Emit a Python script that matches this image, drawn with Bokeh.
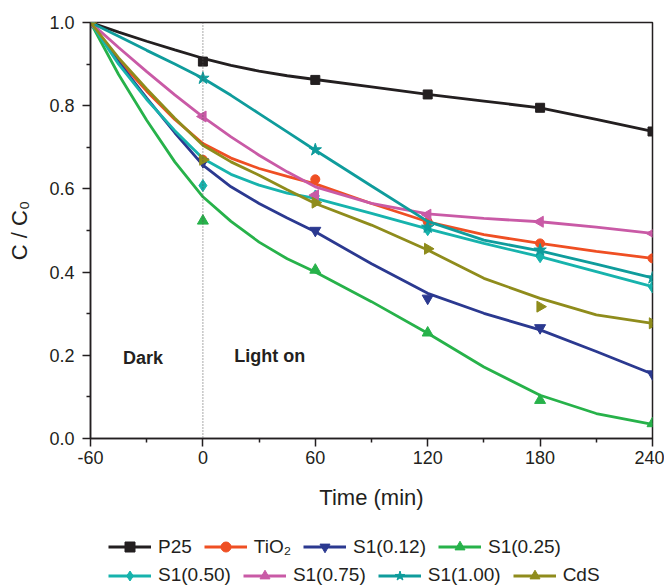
import math
from bokeh.plotting import figure
from bokeh.layouts import column
from bokeh.models import (Legend, LegendItem, Span, Label, FixedTicker,
                          PrintfTickFormatter, Range1d)
from bokeh.embed import file_html
from bokeh.resources import INLINE

# ---------------- data ----------------
series_names = ["P25", "TiO\u2082", "S1(0.12)", "S1(0.25)",
                "S1(0.50)", "S1(0.75)", "S1(1.00)", "CdS"]

# measured points (markers)
t_points = [-60, 0, 60, 120, 180, 240]
p25_pts = [1.0, 0.906, 0.862, 0.827, 0.795, 0.738]
tio2_pts = [1.0, 0.670, 0.623, 0.521, 0.469, 0.433]
s1_012_pts = [1.0, 0.665, 0.500, 0.337, 0.266, 0.155]
s1_025_pts = [1.0, 0.523, 0.405, 0.254, 0.092, 0.036]
s1_050_pts = [1.0, 0.608, 0.583, 0.502, 0.437, 0.364]
s1_075_pts = [1.0, 0.774, 0.585, 0.538, 0.521, 0.493]
s1_100_pts = [1.0, 0.866, 0.694, 0.508, 0.453, 0.386]
cds_pts = [1.0, 0.670, 0.567, 0.456, 0.317, 0.277]

# fitted curves
t_curve = [-60, -45, -30, -15, 0, 15, 30, 45, 60, 90, 120, 150, 180, 210, 240]
p25_fit = [1.0, 0.977, 0.955, 0.934, 0.914, 0.897, 0.883, 0.872, 0.863, 0.845, 0.827, 0.811, 0.795, 0.767, 0.738]
tio2_fit = [1.0, 0.910, 0.835, 0.767, 0.709, 0.674, 0.649, 0.630, 0.612, 0.565, 0.521, 0.490, 0.469, 0.450, 0.433]
s1_012_fit = [1.0, 0.905, 0.818, 0.735, 0.657, 0.605, 0.565, 0.530, 0.497, 0.420, 0.349, 0.301, 0.261, 0.209, 0.155]
s1_025_fit = [1.0, 0.875, 0.765, 0.665, 0.581, 0.522, 0.472, 0.432, 0.400, 0.329, 0.253, 0.172, 0.104, 0.060, 0.034]
s1_050_fit = [1.0, 0.900, 0.815, 0.740, 0.673, 0.635, 0.609, 0.590, 0.577, 0.541, 0.504, 0.469, 0.437, 0.401, 0.365]
s1_075_fit = [1.0, 0.940, 0.882, 0.826, 0.773, 0.725, 0.681, 0.641, 0.605, 0.565, 0.540, 0.529, 0.521, 0.508, 0.493]
s1_100_fit = [1.0, 0.967, 0.933, 0.900, 0.866, 0.825, 0.781, 0.737, 0.693, 0.607, 0.522, 0.477, 0.451, 0.419, 0.386]
cds_fit = [1.0, 0.915, 0.840, 0.770, 0.705, 0.665, 0.633, 0.598, 0.565, 0.513, 0.453, 0.385, 0.337, 0.297, 0.277]

x_ticks = [-60, 0, 60, 120, 180, 240]
x_minor = [-30, 30, 90, 150, 210]
y_ticks = [0.0, 0.2, 0.4, 0.6, 0.8, 1.0]
y_minor = [0.1, 0.3, 0.5, 0.7, 0.9]

points = [p25_pts, tio2_pts, s1_012_pts, s1_025_pts, s1_050_pts, s1_075_pts, s1_100_pts, cds_pts]
fits = [p25_fit, tio2_fit, s1_012_fit, s1_025_fit, s1_050_fit, s1_075_fit, s1_100_fit, cds_fit]

# ---------------- style ----------------
colors = ["#231f20", "#ef4f23", "#2b3990", "#27b24a",
          "#17b3ad", "#c95aa6", "#0f9c9c", "#8f8c1c"]
markers = ["square", "circle", "inverted_triangle", "triangle",
           "diamond", "triangle", "star", "triangle"]
angles = [0, 0, 0, 0, 0, math.pi / 2, 0, -math.pi / 2]
sizes = [9, 9, 11, 11, 12, 11, 13, 11]

FONT = "Liberation Sans"
INK = "#231f20"

p = figure(width=664, height=520, output_backend="svg", toolbar_location=None,
           x_range=Range1d(-60, 240), y_range=Range1d(0, 1.0),
           min_border_left=90, min_border_right=12, min_border_top=22,
           min_border_bottom=82)
p.grid.visible = False
p.background_fill_color = "white"
p.border_fill_color = "white"
p.outline_line_color = INK
p.outline_line_width = 1.5
p.outline_line_alpha = 1.0

p.xaxis.ticker = FixedTicker(ticks=x_ticks, minor_ticks=x_minor)
p.yaxis.ticker = FixedTicker(ticks=y_ticks, minor_ticks=y_minor)
p.yaxis.formatter = PrintfTickFormatter(format="%.1f")
p.xaxis.major_label_overrides = {-60: "-60"}

for ax in (p.xaxis[0], p.yaxis[0]):
    ax.axis_line_color = INK
    ax.axis_line_width = 1.5
    ax.major_tick_line_color = INK
    ax.major_tick_line_width = 1.5
    ax.minor_tick_line_color = INK
    ax.minor_tick_line_width = 1.5
    ax.major_tick_in = 0
    ax.major_tick_out = 8
    ax.minor_tick_in = 0
    ax.minor_tick_out = 4
    ax.major_label_text_font = FONT
    ax.major_label_text_font_size = "18px"
    ax.major_label_text_color = INK
    ax.axis_label_text_font = FONT
    ax.axis_label_text_font_size = "22px"
    ax.axis_label_text_font_style = "normal"
    ax.axis_label_text_color = INK

p.xaxis.axis_label = "Time (min)"
p.yaxis.axis_label = "C / C\u2080"
p.xaxis.major_label_standoff = 4
p.yaxis.major_label_standoff = 8
p.xaxis.axis_label_standoff = 18
p.yaxis.axis_label_standoff = 14

p.add_layout(Span(location=0, dimension="height", line_color="#555555",
                  line_dash="1 2", line_width=1))

for pts, fit, col, mk, ang, sz in zip(points, fits, colors, markers, angles, sizes):
    p.line(t_curve, fit, line_color=col, line_width=2.8)
    p.scatter(t_points, pts, marker=mk, size=sz, angle=ang,
              fill_color=col, line_color=col)

p.add_layout(Label(x=-42.7, y=0.194, text="Dark", text_font=FONT,
                   text_font_style="bold", text_font_size="18px",
                   text_color=INK, text_baseline="alphabetic"))
p.add_layout(Label(x=16.8, y=0.198, text="Light on", text_font=FONT,
                   text_font_style="bold", text_font_size="18px",
                   text_color=INK, text_baseline="alphabetic"))

# ---------------- legend strip ----------------
lg = figure(width=664, height=67, output_backend="svg", toolbar_location=None,
            x_range=Range1d(-60, 240), y_range=Range1d(0, 1),
            x_axis_type=None, y_axis_type=None, min_border=0)
lg.grid.visible = False
lg.outline_line_color = None
lg.background_fill_color = "white"
lg.border_fill_color = "white"

items = []
for name, pts, fit, col, mk, ang in zip(series_names, points, fits, colors,
                                        markers, angles):
    lr = lg.line(t_curve, fit, line_color=col, line_width=2.8, visible=False)
    sr = lg.scatter(t_points, pts, marker=mk, angle=ang, size=10,
                    fill_color=col, line_color=col, visible=False)
    items.append(LegendItem(label=name, renderers=[lr, sr]))


def make_legend(its, loc):
    return Legend(items=its, location=loc, orientation="horizontal",
                  glyph_width=43, glyph_height=25, label_standoff=7,
                  spacing=12, padding=0, margin=0, label_height=22,
                  label_text_font=FONT, label_text_font_size="19px",
                  label_text_color=INK, border_line_alpha=0,
                  background_fill_alpha=0, inactive_fill_alpha=0,
                  click_policy="none")


lg.add_layout(make_legend(items[:4], (18, 27.8)))
lg.add_layout(make_legend(items[4:], (18, -0.5)))

layout = column(p, lg, spacing=0)
open("out.html", "w").write(file_html(layout, INLINE))
